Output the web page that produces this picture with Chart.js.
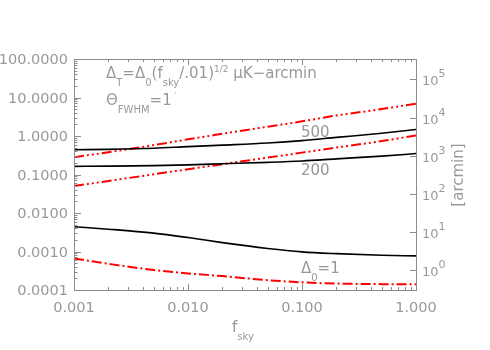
<!DOCTYPE html>
<html>
<head>
<meta charset="utf-8">
<script src="https://cdn.jsdelivr.net/npm/chart.js@4.4.0/dist/chart.umd.min.js"></script>
<style>html,body{margin:0;padding:0;background:#fff}</style>
</head>
<body>
<canvas id="chart" width="490" height="350"></canvas>
<script>
// Valores de f_sky donde se leen las curvas
const fsky = [0.001, 0.002, 0.005, 0.01, 0.02, 0.05, 0.1, 0.2, 0.5, 1.0];

// Curvas negras (linea continua)
const black500 = [0.44, 0.45, 0.48, 0.53, 0.58, 0.66, 0.76, 0.92, 1.18, 1.48];
const black200 = [0.163, 0.165, 0.17, 0.178, 0.19, 0.207, 0.225, 0.255, 0.30, 0.35];
const black1 = [0.0044, 0.0038, 0.0030, 0.0023, 0.0017, 0.0012, 0.00098, 0.00088, 0.0008, 0.00077];

// Curvas rojas (trazo y puntos)
const red500 = [0.28, 0.38, 0.58, 0.82, 1.14, 1.75, 2.4, 3.4, 5.0, 6.9];
const red200 = [0.05, 0.068, 0.101, 0.137, 0.185, 0.275, 0.37, 0.5, 0.74, 1.03];
const red1 = [0.00066, 0.00048, 0.00033, 0.00027, 0.00023, 0.00018, 0.000158, 0.000147, 0.000142, 0.00014];

// Marcas de los ejes
const xTicks = [0.001, 0.01, 0.1, 1];
const yTicks = [0.0001, 0.001, 0.01, 0.1, 1, 10, 100];
const y2Exps = [0, 1, 2, 3, 4, 5];

const GRAY = '#8c8c8c';
const TEXT = '#999999';
const FONT = '"DejaVu Sans"';

function toPoints(values) {
    return fsky.map((f, i) => ({ x: f, y: values[i] }));
}

// Texto con subindices y superindices
function drawRich(ctx, x, y, parts, base) {
    let cx = x;
    base = base || 15;
    for (const [txt, kind] of parts) {
        let size = base, dy = 0;
        if (kind === 'b') { size = 10; dy = 8; }
        if (kind === 'p') { size = 9; dy = -6; }
        ctx.font = size + 'px ' + FONT;
        ctx.fillText(txt, cx, y + dy);
        cx += ctx.measureText(txt).width;
    }
}

const framePlugin = {
    id: 'frame',
    afterDatasetsDraw(chart) {
        const ctx = chart.ctx;
        const a = chart.chartArea;
        const sx = chart.scales.x, sy = chart.scales.y, sy2 = chart.scales.y2;
        ctx.save();
        ctx.strokeStyle = GRAY;
        ctx.fillStyle = TEXT;
        ctx.lineWidth = 1;
        ctx.strokeRect(Math.round(a.left) + 0.5, Math.round(a.top) + 0.5,
            Math.round(a.right - a.left), Math.round(a.bottom - a.top));

        ctx.beginPath();
        // Eje x (abajo y arriba)
        for (let d = -3; d <= 0; d++) {
            for (let m = 1; m <= 9; m++) {
                const v = m * Math.pow(10, d);
                if (v > 1.0001) continue;
                const px = Math.round(sx.getPixelForValue(v)) + 0.5;
                const len = m === 1 ? 6 : 3;
                ctx.moveTo(px, a.bottom); ctx.lineTo(px, a.bottom - len);
                ctx.moveTo(px, a.top); ctx.lineTo(px, a.top + len);
            }
        }
        // Eje y izquierdo
        for (let d = -4; d <= 2; d++) {
            for (let m = 1; m <= 9; m++) {
                const v = m * Math.pow(10, d);
                if (v > 100.001) continue;
                const py = Math.round(sy.getPixelForValue(v)) + 0.5;
                const len = m === 1 ? 7 : 3.5;
                ctx.moveTo(a.left, py); ctx.lineTo(a.left + len, py);
            }
        }
        // Eje y derecho
        y2Exps.forEach(e => {
            const py = Math.round(sy2.getPixelForValue(Math.pow(10, e))) + 0.5;
            ctx.moveTo(a.right, py); ctx.lineTo(a.right - 6, py);
        });
        ctx.stroke();

        // Etiquetas de los ejes
        ctx.font = '14.5px ' + FONT;
        ctx.textBaseline = 'middle';
        ctx.textAlign = 'right';
        yTicks.forEach(v => {
            ctx.fillText(v.toFixed(4), a.left - 6, sy.getPixelForValue(v) + 1.5);
        });
        ctx.textAlign = 'center';
        xTicks.forEach(v => {
            ctx.fillText(v.toFixed(3), sx.getPixelForValue(v), a.bottom + 18);
        });
        ctx.textAlign = 'left';
        ctx.textBaseline = 'alphabetic';
        y2Exps.forEach(e => {
            const py = sy2.getPixelForValue(Math.pow(10, e));
            ctx.font = '13px ' + FONT;
            ctx.fillText('10', a.right + 6, py + 6);
            const w = ctx.measureText('10').width;
            ctx.font = '11px ' + FONT;
            ctx.fillText(String(e), a.right + 6 + w, py - 2);
        });

        // Titulos
        drawRich(ctx, 232, 332, [['f', 'n'], ['sky', 'b']]);
        ctx.save();
        ctx.translate(463, 175);
        ctx.rotate(-Math.PI / 2);
        ctx.textAlign = 'center';
        ctx.font = '15px ' + FONT;
        ctx.fillText('[arcmin]', 0, 0);
        ctx.restore();

        // Anotaciones
        drawRich(ctx, 106, 78, [['\u0394', 'n'], ['T', 'b'], ['=\u0394', 'n'], ['0', 'b'], ['(f', 'n'], ['sky', 'b'],
            ['/.01)', 'n'], ['1/2', 'p'], [' \u03bcK\u2212arcmin', 'n']]);
        drawRich(ctx, 106, 105, [['\u0398', 'n'], ['FWHM', 'b'], ['=1', 'n'], [' \u2032', 'p']]);
        drawRich(ctx, 301, 137, [['500', 'n']]);
        drawRich(ctx, 301, 175, [['200', 'n']]);
        drawRich(ctx, 301, 273, [['\u0394', 'n'], ['0', 'b'], ['=1', 'n']]);
        ctx.restore();
    }
};

function lineSet(values, color, dash, width) {
    return {
        data: toPoints(values),
        borderColor: color,
        borderWidth: width,
        borderDash: dash,
        pointRadius: 0,
        fill: false,
        cubicInterpolationMode: 'monotone',
        yAxisID: 'y'
    };
}

const dashDot3 = [10, 3, 2, 3, 2, 3, 2, 3];
const dashDot = [10, 3, 2, 3];

new Chart(document.getElementById('chart').getContext('2d'), {
    type: 'line',
    data: {
        datasets: [
            lineSet(black500, '#000000', [], 1.6),
            lineSet(black200, '#000000', [], 1.6),
            lineSet(black1, '#000000', [], 1.6),
            lineSet(red500, '#ff0000', dashDot3, 2),
            lineSet(red200, '#ff0000', dashDot3, 2),
            lineSet(red1, '#ff0000', dashDot, 2)
        ]
    },
    options: {
        responsive: false,
        animation: false,
        layout: { padding: { top: 59, left: 0, right: 0, bottom: 0 } },
        plugins: { legend: { display: false }, tooltip: { enabled: false } },
        scales: {
            x: {
                type: 'logarithmic', min: 0.001, max: 1,
                grid: { display: false }, border: { display: false },
                ticks: { display: false },
                afterFit(s) { s.height = 60; }
            },
            y: {
                type: 'logarithmic', position: 'left', min: 0.0001, max: 100,
                grid: { display: false }, border: { display: false },
                ticks: { display: false },
                afterFit(s) { s.width = 74; }
            },
            y2: {
                type: 'logarithmic', position: 'right', min: Math.pow(10, -0.464), max: Math.pow(10, 5.536),
                grid: { display: false }, border: { display: false },
                ticks: { display: false },
                afterFit(s) { s.width = 74; }
            }
        }
    },
    plugins: [framePlugin]
});
</script>
</body>
</html>
